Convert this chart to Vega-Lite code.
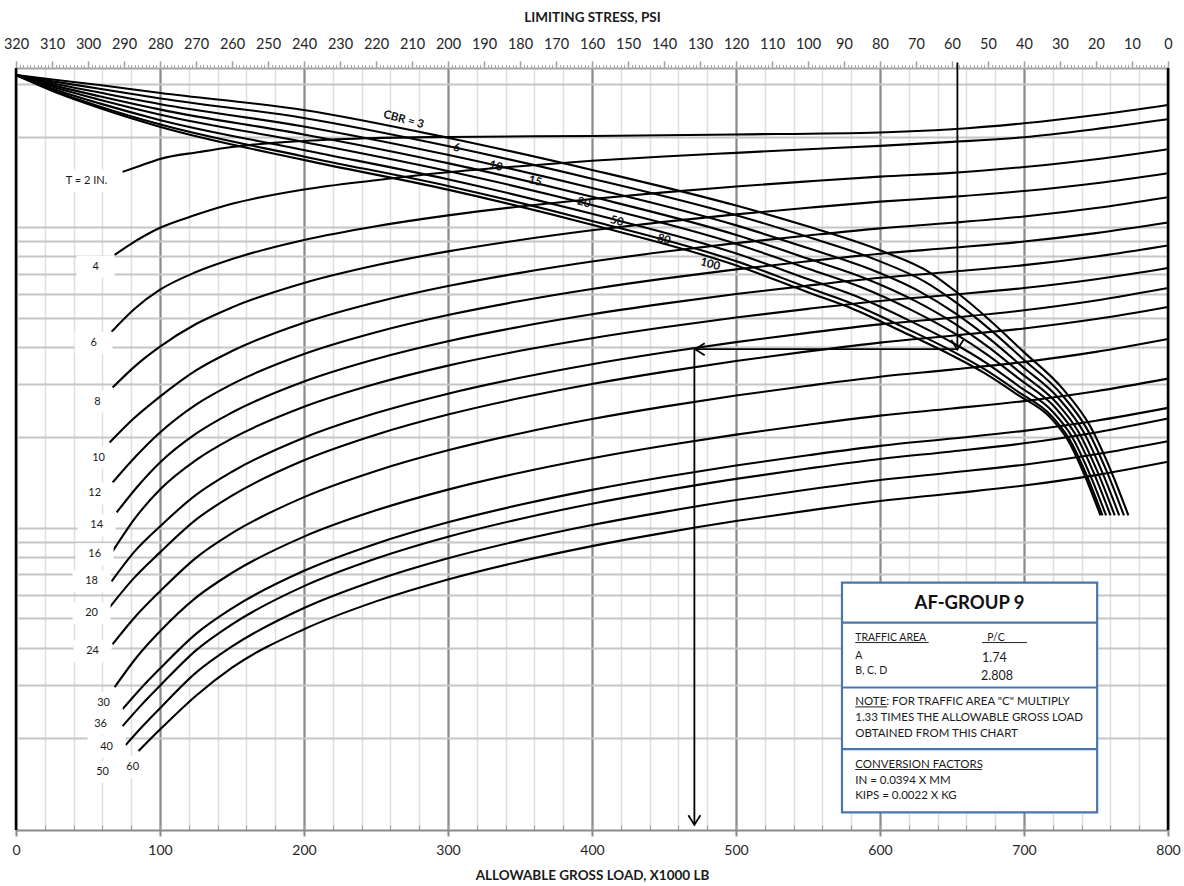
{
  "$schema": "https://vega.github.io/schema/vega-lite/v6.json",
  "width": 1152,
  "height": 762,
  "autosize": {"type": "none"},
  "padding": {"left": 16, "top": 68, "right": 16, "bottom": 56},
  "background": "white",
  "config": {
    "view": {"stroke": null},
    "font": "Lato",
    "axis": {"labelFont": "Lato", "titleFont": "Lato"}
  },
  "datasets": {
    "thick": [
      {"T":2,"load":74.0,"lg":1.1844},{"T":2,"load":85.8,"lg":1.2043},{"T":2,"load":100,"lg":1.2276},{"T":2,"load":127.5,"lg":1.2508},{"T":2,"load":150,"lg":1.2674},{"T":2,"load":200,"lg":1.2874},{"T":2,"load":250,"lg":1.2973},{"T":2,"load":300,"lg":1.3007},{"T":2,"load":400,"lg":1.3040},{"T":2,"load":500,"lg":1.3090},{"T":2,"load":600,"lg":1.3156},{"T":2,"load":650,"lg":1.3262},{"T":2,"load":700,"lg":1.3462},{"T":2,"load":750,"lg":1.3738},{"T":2,"load":800,"lg":1.4070},
      {"T":4,"load":68.5,"lg":0.9086},{"T":4,"load":78.9,"lg":0.9419},{"T":4,"load":100,"lg":0.9983},{"T":4,"load":125,"lg":1.0415},{"T":4,"load":150,"lg":1.0781},{"T":4,"load":200,"lg":1.1259},{"T":4,"load":250,"lg":1.1568},{"T":4,"load":300,"lg":1.1831},{"T":4,"load":350,"lg":1.2033},{"T":4,"load":400,"lg":1.2213},{"T":4,"load":450,"lg":1.2355},{"T":4,"load":500,"lg":1.2478},{"T":4,"load":550,"lg":1.2598},{"T":4,"load":600,"lg":1.2708},{"T":4,"load":650,"lg":1.2841},{"T":4,"load":700,"lg":1.2997},{"T":4,"load":750,"lg":1.3272},{"T":4,"load":800,"lg":1.3595},
      {"T":6,"load":66.4,"lg":0.6528},{"T":6,"load":82.4,"lg":0.7292},{"T":6,"load":100,"lg":0.7924},{"T":6,"load":125,"lg":0.8511},{"T":6,"load":150,"lg":0.8942},{"T":6,"load":200,"lg":0.9576},{"T":6,"load":250,"lg":1.0035},{"T":6,"load":300,"lg":1.0396},{"T":6,"load":350,"lg":1.0692},{"T":6,"load":400,"lg":1.0944},{"T":6,"load":450,"lg":1.1162},{"T":6,"load":500,"lg":1.1356},{"T":6,"load":550,"lg":1.1529},{"T":6,"load":600,"lg":1.1687},{"T":6,"load":650,"lg":1.1811},{"T":6,"load":700,"lg":1.2007},{"T":6,"load":750,"lg":1.2266},{"T":6,"load":800,"lg":1.2598},
      {"T":8,"load":67.1,"lg":0.4668},{"T":8,"load":83.1,"lg":0.5399},{"T":8,"load":100,"lg":0.6030},{"T":8,"load":125,"lg":0.6782},{"T":8,"load":150,"lg":0.7336},{"T":8,"load":200,"lg":0.8148},{"T":8,"load":250,"lg":0.8736},{"T":8,"load":300,"lg":0.9199},{"T":8,"load":350,"lg":0.9578},{"T":8,"load":400,"lg":0.9902},{"T":8,"load":450,"lg":1.0181},{"T":8,"load":500,"lg":1.0430},{"T":8,"load":550,"lg":1.0651},{"T":8,"load":600,"lg":1.0854},{"T":8,"load":650,"lg":1.1013},{"T":8,"load":700,"lg":1.1209},{"T":8,"load":750,"lg":1.1468},{"T":8,"load":800,"lg":1.1801},
      {"T":10,"load":65.0,"lg":0.2841},{"T":10,"load":81.7,"lg":0.3638},{"T":10,"load":100,"lg":0.4369},{"T":10,"load":125,"lg":0.5242},{"T":10,"load":150,"lg":0.5884},{"T":10,"load":200,"lg":0.6826},{"T":10,"load":250,"lg":0.7508},{"T":10,"load":300,"lg":0.8046},{"T":10,"load":350,"lg":0.8485},{"T":10,"load":400,"lg":0.8861},{"T":10,"load":450,"lg":0.9185},{"T":10,"load":500,"lg":0.9474},{"T":10,"load":550,"lg":0.9730},{"T":10,"load":600,"lg":0.9966},{"T":10,"load":650,"lg":1.0150},{"T":10,"load":700,"lg":1.0362},{"T":10,"load":750,"lg":1.0645},{"T":10,"load":800,"lg":1.1003},
      {"T":12,"load":67.1,"lg":0.1512},{"T":12,"load":83.1,"lg":0.2375},{"T":12,"load":100,"lg":0.3173},{"T":12,"load":125,"lg":0.4101},{"T":12,"load":150,"lg":0.4783},{"T":12,"load":200,"lg":0.5785},{"T":12,"load":250,"lg":0.6510},{"T":12,"load":300,"lg":0.7082},{"T":12,"load":350,"lg":0.7549},{"T":12,"load":400,"lg":0.7948},{"T":12,"load":450,"lg":0.8293},{"T":12,"load":500,"lg":0.8600},{"T":12,"load":550,"lg":0.8873},{"T":12,"load":600,"lg":0.9123},{"T":12,"load":650,"lg":0.9319},{"T":12,"load":700,"lg":0.9528},{"T":12,"load":750,"lg":0.9807},{"T":12,"load":800,"lg":1.0159},
      {"T":14,"load":69.9,"lg":0.0515},{"T":14,"load":84.4,"lg":0.1379},{"T":14,"load":100,"lg":0.2176},{"T":14,"load":125,"lg":0.3134},{"T":14,"load":150,"lg":0.3839},{"T":14,"load":200,"lg":0.4873},{"T":14,"load":250,"lg":0.5622},{"T":14,"load":300,"lg":0.6212},{"T":14,"load":350,"lg":0.6694},{"T":14,"load":400,"lg":0.7107},{"T":14,"load":450,"lg":0.7462},{"T":14,"load":500,"lg":0.7780},{"T":14,"load":550,"lg":0.8061},{"T":14,"load":600,"lg":0.8320},{"T":14,"load":650,"lg":0.8522},{"T":14,"load":700,"lg":0.8741},{"T":14,"load":750,"lg":0.9030},{"T":14,"load":800,"lg":0.9395},
      {"T":16,"load":67.1,"lg":-0.0781},{"T":16,"load":83.1,"lg":0.0349},{"T":16,"load":100,"lg":0.1279},{"T":16,"load":125,"lg":0.2257},{"T":16,"load":150,"lg":0.2976},{"T":16,"load":200,"lg":0.4032},{"T":16,"load":250,"lg":0.4797},{"T":16,"load":300,"lg":0.5399},{"T":16,"load":350,"lg":0.5891},{"T":16,"load":400,"lg":0.6312},{"T":16,"load":450,"lg":0.6675},{"T":16,"load":500,"lg":0.6999},{"T":16,"load":550,"lg":0.7287},{"T":16,"load":600,"lg":0.7550},{"T":16,"load":650,"lg":0.7757},{"T":16,"load":700,"lg":0.7980},{"T":16,"load":750,"lg":0.8272},{"T":16,"load":800,"lg":0.8645},
      {"T":18,"load":66.4,"lg":-0.1777},{"T":18,"load":82.4,"lg":-0.0781},{"T":18,"load":100,"lg":0.0050},{"T":18,"load":125,"lg":0.1098},{"T":18,"load":150,"lg":0.1869},{"T":18,"load":200,"lg":0.3001},{"T":18,"load":250,"lg":0.3820},{"T":18,"load":300,"lg":0.4466},{"T":18,"load":350,"lg":0.4993},{"T":18,"load":400,"lg":0.5445},{"T":18,"load":450,"lg":0.5834},{"T":18,"load":500,"lg":0.6181},{"T":18,"load":550,"lg":0.6489},{"T":18,"load":600,"lg":0.6772},{"T":18,"load":650,"lg":0.6993},{"T":18,"load":700,"lg":0.7239},{"T":18,"load":750,"lg":0.7565},{"T":18,"load":800,"lg":0.7980},
      {"T":20,"load":65.0,"lg":-0.2641},{"T":20,"load":81.7,"lg":-0.1678},{"T":20,"load":100,"lg":-0.0814},{"T":20,"load":125,"lg":0.0275},{"T":20,"load":150,"lg":0.1075},{"T":20,"load":200,"lg":0.2250},{"T":20,"load":250,"lg":0.3101},{"T":20,"load":300,"lg":0.3771},{"T":20,"load":350,"lg":0.4319},{"T":20,"load":400,"lg":0.4787},{"T":20,"load":450,"lg":0.5191},{"T":20,"load":500,"lg":0.5552},{"T":20,"load":550,"lg":0.5872},{"T":20,"load":600,"lg":0.6165},{"T":20,"load":650,"lg":0.6395},{"T":20,"load":700,"lg":0.6635},{"T":20,"load":750,"lg":0.6947},{"T":20,"load":800,"lg":0.7349},
      {"T":24,"load":67.1,"lg":-0.3870},{"T":24,"load":83.1,"lg":-0.2940},{"T":24,"load":100,"lg":-0.2110},{"T":24,"load":125,"lg":-0.0996},{"T":24,"load":150,"lg":-0.0177},{"T":24,"load":200,"lg":0.1025},{"T":24,"load":250,"lg":0.1895},{"T":24,"load":300,"lg":0.2581},{"T":24,"load":350,"lg":0.3142},{"T":24,"load":400,"lg":0.3621},{"T":24,"load":450,"lg":0.4034},{"T":24,"load":500,"lg":0.4403},{"T":24,"load":550,"lg":0.4730},{"T":24,"load":600,"lg":0.5031},{"T":24,"load":650,"lg":0.5266},{"T":24,"load":700,"lg":0.5522},{"T":24,"load":750,"lg":0.5857},{"T":24,"load":800,"lg":0.6286},
      {"T":30,"load":68.5,"lg":-0.5299},{"T":30,"load":83.8,"lg":-0.4302},{"T":30,"load":100,"lg":-0.3439},{"T":30,"load":125,"lg":-0.2320},{"T":30,"load":150,"lg":-0.1498},{"T":30,"load":200,"lg":-0.0290},{"T":30,"load":250,"lg":0.0584},{"T":30,"load":300,"lg":0.1273},{"T":30,"load":350,"lg":0.1836},{"T":30,"load":400,"lg":0.2318},{"T":30,"load":450,"lg":0.2733},{"T":30,"load":500,"lg":0.3103},{"T":30,"load":550,"lg":0.3432},{"T":30,"load":600,"lg":0.3734},{"T":30,"load":650,"lg":0.3970},{"T":30,"load":700,"lg":0.4219},{"T":30,"load":750,"lg":0.4548},{"T":30,"load":800,"lg":0.4967},
      {"T":36,"load":74.0,"lg":-0.6030},{"T":36,"load":86.5,"lg":-0.5350},{"T":36,"load":100,"lg":-0.4680},{"T":36,"load":125,"lg":-0.3524},{"T":36,"load":150,"lg":-0.2675},{"T":36,"load":200,"lg":-0.1427},{"T":36,"load":250,"lg":-0.0524},{"T":36,"load":300,"lg":0.0187},{"T":36,"load":350,"lg":0.0769},{"T":36,"load":400,"lg":0.1266},{"T":36,"load":450,"lg":0.1695},{"T":36,"load":500,"lg":0.2078},{"T":36,"load":550,"lg":0.2417},{"T":36,"load":600,"lg":0.2729},{"T":36,"load":650,"lg":0.2973},{"T":36,"load":700,"lg":0.3229},{"T":36,"load":750,"lg":0.3565},{"T":36,"load":800,"lg":0.3993},
      {"T":40,"load":74.0,"lg":-0.6595},{"T":40,"load":86.5,"lg":-0.5920},{"T":40,"load":100,"lg":-0.5250},{"T":40,"load":125,"lg":-0.4073},{"T":40,"load":150,"lg":-0.3208},{"T":40,"load":200,"lg":-0.1938},{"T":40,"load":250,"lg":-0.1019},{"T":40,"load":300,"lg":-0.0294},{"T":40,"load":350,"lg":0.0298},{"T":40,"load":400,"lg":0.0804},{"T":40,"load":450,"lg":0.1241},{"T":40,"load":500,"lg":0.1630},{"T":40,"load":550,"lg":0.1976},{"T":40,"load":600,"lg":0.2293},{"T":40,"load":650,"lg":0.2542},{"T":40,"load":700,"lg":0.2814},{"T":40,"load":750,"lg":0.3176},{"T":40,"load":800,"lg":0.3638},
      {"T":50,"load":76.1,"lg":-0.7226},{"T":50,"load":87.9,"lg":-0.6600},{"T":50,"load":100,"lg":-0.6000},{"T":50,"load":125,"lg":-0.4816},{"T":50,"load":150,"lg":-0.3945},{"T":50,"load":200,"lg":-0.2666},{"T":50,"load":250,"lg":-0.1741},{"T":50,"load":300,"lg":-0.1011},{"T":50,"load":350,"lg":-0.0415},{"T":50,"load":400,"lg":0.0095},{"T":50,"load":450,"lg":0.0534},{"T":50,"load":500,"lg":0.0926},{"T":50,"load":550,"lg":0.1275},{"T":50,"load":600,"lg":0.1594},{"T":50,"load":650,"lg":0.1844},{"T":50,"load":700,"lg":0.2103},{"T":50,"load":750,"lg":0.2449},{"T":50,"load":800,"lg":0.2884},
      {"T":60,"load":85.1,"lg":-0.7425},{"T":60,"load":92.8,"lg":-0.7050},{"T":60,"load":100,"lg":-0.6710},{"T":60,"load":125,"lg":-0.5585},{"T":60,"load":150,"lg":-0.4650},{"T":60,"load":200,"lg":-0.3371},{"T":60,"load":250,"lg":-0.2444},{"T":60,"load":300,"lg":-0.1714},{"T":60,"load":350,"lg":-0.1117},{"T":60,"load":400,"lg":-0.0606},{"T":60,"load":450,"lg":-0.0166},{"T":60,"load":500,"lg":0.0227},{"T":60,"load":550,"lg":0.0576},{"T":60,"load":600,"lg":0.0895},{"T":60,"load":650,"lg":0.1146},{"T":60,"load":700,"lg":0.1409},{"T":60,"load":750,"lg":0.1757},{"T":60,"load":800,"lg":0.2199}
    ],
    "cbr": [
      {"CBR":3,"load":0,"lg":1.5066},{"CBR":3,"load":25.4,"lg":1.4917},{"CBR":3,"load":58.0,"lg":1.4734},{"CBR":3,"load":100.4,"lg":1.4468},{"CBR":3,"load":199.8,"lg":1.3904},{"CBR":3,"load":300.6,"lg":1.2973},{"CBR":3,"load":400.0,"lg":1.1910},{"CBR":3,"load":500.8,"lg":1.0714},{"CBR":3,"load":550.8,"lg":1.0017},{"CBR":3,"load":600.9,"lg":0.9219},{"CBR":3,"load":634.9,"lg":0.8488},{"CBR":3,"load":653.7,"lg":0.7824},{"CBR":3,"load":676.6,"lg":0.6894},{"CBR":3,"load":699.6,"lg":0.5864},{"CBR":3,"load":727.4,"lg":0.4601},{"CBR":3,"load":746.1,"lg":0.3372},{"CBR":3,"load":760.0,"lg":0.1944},{"CBR":3,"load":772.5,"lg":0.0415},
      {"CBR":6,"load":0,"lg":1.5066},{"CBR":6,"load":25.4,"lg":1.4856},{"CBR":6,"load":58.0,"lg":1.4612},{"CBR":6,"load":100.4,"lg":1.4287},{"CBR":6,"load":199.8,"lg":1.3638},{"CBR":6,"load":300.6,"lg":1.2697},{"CBR":6,"load":400.0,"lg":1.1618},{"CBR":6,"load":500.8,"lg":1.0395},{"CBR":6,"load":550.8,"lg":0.9666},{"CBR":6,"load":597.4,"lg":0.8916},{"CBR":6,"load":631.6,"lg":0.8179},{"CBR":6,"load":652.9,"lg":0.7494},{"CBR":6,"load":676.1,"lg":0.6612},{"CBR":6,"load":698.9,"lg":0.5636},{"CBR":6,"load":725.9,"lg":0.4452},{"CBR":6,"load":743.6,"lg":0.3303},{"CBR":6,"load":757.0,"lg":0.1928},{"CBR":6,"load":769.4,"lg":0.0415},
      {"CBR":10,"load":0,"lg":1.5066},{"CBR":10,"load":25.4,"lg":1.4791},{"CBR":10,"load":58.0,"lg":1.4482},{"CBR":10,"load":100.4,"lg":1.4095},{"CBR":10,"load":199.8,"lg":1.3356},{"CBR":10,"load":300.6,"lg":1.2403},{"CBR":10,"load":400.0,"lg":1.1307},{"CBR":10,"load":500.8,"lg":1.0056},{"CBR":10,"load":550.8,"lg":0.9293},{"CBR":10,"load":593.8,"lg":0.8594},{"CBR":10,"load":628.0,"lg":0.7852},{"CBR":10,"load":652.1,"lg":0.7144},{"CBR":10,"load":675.5,"lg":0.6313},{"CBR":10,"load":698.2,"lg":0.5392},{"CBR":10,"load":724.4,"lg":0.4294},{"CBR":10,"load":740.9,"lg":0.3229},{"CBR":10,"load":753.8,"lg":0.1911},{"CBR":10,"load":766.1,"lg":0.0415},
      {"CBR":15,"load":0,"lg":1.5066},{"CBR":15,"load":25.4,"lg":1.4730},{"CBR":15,"load":58.0,"lg":1.4360},{"CBR":15,"load":100.4,"lg":1.3915},{"CBR":15,"load":199.8,"lg":1.3090},{"CBR":15,"load":300.6,"lg":1.2127},{"CBR":15,"load":400.0,"lg":1.1015},{"CBR":15,"load":500.8,"lg":0.9737},{"CBR":15,"load":550.8,"lg":0.8942},{"CBR":15,"load":590.3,"lg":0.8291},{"CBR":15,"load":624.7,"lg":0.7544},{"CBR":15,"load":651.3,"lg":0.6815},{"CBR":15,"load":674.9,"lg":0.6031},{"CBR":15,"load":697.5,"lg":0.5164},{"CBR":15,"load":722.9,"lg":0.4145},{"CBR":15,"load":738.3,"lg":0.3160},{"CBR":15,"load":750.8,"lg":0.1895},{"CBR":15,"load":763.0,"lg":0.0415},
      {"CBR":20,"load":0,"lg":1.5066},{"CBR":20,"load":25.4,"lg":1.4673},{"CBR":20,"load":58.0,"lg":1.4245},{"CBR":20,"load":100.4,"lg":1.3745},{"CBR":20,"load":199.8,"lg":1.2841},{"CBR":20,"load":300.6,"lg":1.1868},{"CBR":20,"load":400.0,"lg":1.0741},{"CBR":20,"load":500.8,"lg":0.9438},{"CBR":20,"load":550.8,"lg":0.8613},{"CBR":20,"load":587.1,"lg":0.8007},{"CBR":20,"load":621.6,"lg":0.7255},{"CBR":20,"load":650.6,"lg":0.6506},{"CBR":20,"load":674.4,"lg":0.5767},{"CBR":20,"load":696.9,"lg":0.4950},{"CBR":20,"load":721.6,"lg":0.4006},{"CBR":20,"load":735.9,"lg":0.3096},{"CBR":20,"load":748.0,"lg":0.1880},{"CBR":20,"load":760.1,"lg":0.0415},
      {"CBR":50,"load":0,"lg":1.5066},{"CBR":50,"load":25.4,"lg":1.4611},{"CBR":50,"load":58.0,"lg":1.4123},{"CBR":50,"load":100.4,"lg":1.3565},{"CBR":50,"load":199.8,"lg":1.2575},{"CBR":50,"load":300.6,"lg":1.1591},{"CBR":50,"load":400.0,"lg":1.0448},{"CBR":50,"load":500.8,"lg":0.9120},{"CBR":50,"load":550.8,"lg":0.8263},{"CBR":50,"load":583.6,"lg":0.7704},{"CBR":50,"load":618.3,"lg":0.6946},{"CBR":50,"load":649.8,"lg":0.6176},{"CBR":50,"load":673.9,"lg":0.5485},{"CBR":50,"load":696.2,"lg":0.4721},{"CBR":50,"load":720.1,"lg":0.3857},{"CBR":50,"load":733.4,"lg":0.3026},{"CBR":50,"load":745.0,"lg":0.1864},{"CBR":50,"load":757.0,"lg":0.0415},
      {"CBR":80,"load":0,"lg":1.5066},{"CBR":80,"load":25.4,"lg":1.4562},{"CBR":80,"load":58.0,"lg":1.4023},{"CBR":80,"load":100.4,"lg":1.3418},{"CBR":80,"load":199.8,"lg":1.2359},{"CBR":80,"load":300.6,"lg":1.1367},{"CBR":80,"load":400.0,"lg":1.0211},{"CBR":80,"load":500.8,"lg":0.8861},{"CBR":80,"load":550.8,"lg":0.7978},{"CBR":80,"load":580.8,"lg":0.7459},{"CBR":80,"load":615.6,"lg":0.6696},{"CBR":80,"load":649.1,"lg":0.5909},{"CBR":80,"load":673.4,"lg":0.5256},{"CBR":80,"load":695.7,"lg":0.4535},{"CBR":80,"load":718.9,"lg":0.3736},{"CBR":80,"load":731.3,"lg":0.2970},{"CBR":80,"load":742.6,"lg":0.1851},{"CBR":80,"load":754.5,"lg":0.0415},
      {"CBR":100,"load":0,"lg":1.5066},{"CBR":100,"load":25.4,"lg":1.4535},{"CBR":100,"load":58.0,"lg":1.3970},{"CBR":100,"load":100.4,"lg":1.3339},{"CBR":100,"load":199.8,"lg":1.2243},{"CBR":100,"load":300.6,"lg":1.1246},{"CBR":100,"load":400.0,"lg":1.0083},{"CBR":100,"load":500.8,"lg":0.8721},{"CBR":100,"load":550.8,"lg":0.7824},{"CBR":100,"load":579.3,"lg":0.7326},{"CBR":100,"load":614.1,"lg":0.6561},{"CBR":100,"load":648.8,"lg":0.5764},{"CBR":100,"load":673.2,"lg":0.5133},{"CBR":100,"load":695.4,"lg":0.4435},{"CBR":100,"load":718.3,"lg":0.3671},{"CBR":100,"load":730.2,"lg":0.2940},{"CBR":100,"load":741.3,"lg":0.1844},{"CBR":100,"load":753.1,"lg":0.0415}
    ],
    "thickLabels": [
      {"label":"T = 2 IN.","load":49.0,"lg":1.1545},{"label":"4","load":55.3,"lg":0.8688},{"label":"6","load":53.9,"lg":0.6163},{"label":"8","load":56.6,"lg":0.4203},{"label":"10","load":57.3,"lg":0.2342},{"label":"12","load":54.6,"lg":0.1146},{"label":"14","load":56.0,"lg":0.0083},{"label":"16","load":54.6,"lg":-0.0880},{"label":"18","load":52.5,"lg":-0.1777},{"label":"20","load":52.5,"lg":-0.2841},{"label":"24","load":53.2,"lg":-0.4103},{"label":"30","load":60.8,"lg":-0.5831},{"label":"36","load":58.7,"lg":-0.6528},{"label":"40","load":62.9,"lg":-0.7292},{"label":"50","load":60.1,"lg":-0.8123},{"label":"60","load":81.0,"lg":-0.7957}
    ],
    "cbrLabels": [
      {"label":"CBR = 3","load":269.1,"lg":1.3571},{"label":"6","load":305.9,"lg":1.2631},{"label":"10","load":333.1,"lg":1.2020},{"label":"15","load":360.4,"lg":1.1522},{"label":"20","load":394.3,"lg":1.0804},{"label":"50","load":417.2,"lg":1.0193},{"label":"80","load":449.9,"lg":0.9585},{"label":"100","load":482.0,"lg":0.8754}
    ],
    "arrowPsi": [{"psi":58.5,"lg":1.548},{"psi":58.5,"lg":0.593}],
    "arrowLoad": [
      {"seg":"h","load":653.7,"lg":0.5947},{"seg":"h","load":471.6,"lg":0.5947},
      {"seg":"v","load":471.1,"lg":0.5947},{"seg":"v","load":471.1,"lg":-0.988}
    ],
    "headLeft": [{"load":471.6,"lg":0.5947}],
    "headDown": [{"load":653.7,"lg":0.593},{"load":471.1,"lg":-0.988}],
    "borders": [{"load":0},{"load":800}],
    "legendBox": [{"x1":573.6,"x2":750.8,"y1":-0.1821,"y2":-0.9462}],
    "legendDiv": [{"x1":573.6,"x2":750.8,"y":-0.3149},{"x1":573.6,"x2":750.8,"y":-0.5309},{"x1":573.6,"x2":750.8,"y":-0.7359}],
    "legendUnder": [{"x1":582.8,"x2":633.8,"y":-0.3814},{"x1":670.9,"x2":702.1,"y":-0.3814},{"x1":582.8,"x2":605.0,"y":-0.5955},{"x1":582.8,"x2":670.8,"y":-0.8038}],
    "legendTitle": [{"t":"AF-GROUP 9","load":662.2,"lg":-0.2485}],
    "legendSmall": [
      {"t":"TRAFFIC AREA","load":582.8,"lg":-0.3671},{"t":"P/C","load":674.5,"lg":-0.3671},{"t":"A","load":582.8,"lg":-0.4259},{"t":"B, C, D","load":582.8,"lg":-0.4757}
    ],
    "legendNum": [
      {"t":"1.74","load":670.9,"lg":-0.4312},{"t":"2.808","load":670.2,"lg":-0.4923}
    ],
    "legendBody": [
      {"t":"NOTE: FOR TRAFFIC AREA \"C\" MULTIPLY","load":582.8,"lg":-0.5807},{"t":"1.33 TIMES THE ALLOWABLE GROSS LOAD","load":582.8,"lg":-0.6339},{"t":"OBTAINED FROM THIS CHART","load":582.8,"lg":-0.6860},
      {"t":"CONVERSION FACTORS","load":582.8,"lg":-0.7890},{"t":"IN = 0.0394 X MM","load":582.8,"lg":-0.8412},{"t":"KIPS = 0.0022 X KG","load":582.8,"lg":-0.8910}
    ]
  },
  "resolve": {"scale": {"x": "independent"}, "axis": {"x": "independent", "y": "independent"}},
  "layer": [
    {
      "data": {"name": "thick"},
      "mark": {"type": "line", "interpolate": "monotone", "color": "black", "strokeWidth": 2.1},
      "encoding": {
        "x": {"field": "load", "type": "quantitative", "scale": {"domain": [0, 800], "nice": false, "zero": false},
          "axis": {"orient": "bottom", "values": [0,20,40,60,80,100,120,140,160,180,200,220,240,260,280,300,320,340,360,380,400,420,440,460,480,500,520,540,560,580,600,620,640,660,680,700,720,740,760,780,800],
            "grid": true, "gridColor": "#dedede", "gridWidth": 1.5, "labels": false, "ticks": true, "tickSize": -5, "tickColor": "#a0a0a0", "tickWidth": 1.2, "domain": false, "title": null}},
        "y": {"field": "lg", "type": "quantitative", "scale": {"domain": [-1.005, 1.53], "nice": false, "zero": false},
          "axis": {"orient": "left", "values": [1.4771,1.301,1,0.9542,0.9031,0.8451,0.7782,0.699,0.6021,0.4771,0.301,0,-0.0458,-0.0969,-0.1549,-0.2218,-0.301,-0.3979,-0.5229,-0.699],
            "grid": true, "gridColor": "#c6c6c6", "gridWidth": 2, "labels": false, "ticks": false, "domain": false, "title": null}},
        "detail": {"field": "T", "type": "nominal"}
      }
    },
    {
      "data": {"name": "cbr"},
      "mark": {"type": "line", "interpolate": "monotone", "color": "black", "strokeWidth": 2.1},
      "encoding": {
        "x": {"field": "load", "type": "quantitative", "scale": {"domain": [0, 800], "nice": false, "zero": false},
          "axis": {"orient": "bottom", "values": [0,100,200,300,400,500,600,700,800], "grid": true, "gridColor": "#8a8a8a", "gridWidth": 2.2,
            "labelFontSize": 14, "labelColor": "#262626", "labelPadding": 7, "labelFlush": false, "labelOverlap": false,
            "tickSize": 6, "tickColor": "#8a8a8a", "tickWidth": 2, "domainColor": "#8a8a8a", "domainWidth": 2,
            "title": "ALLOWABLE GROSS LOAD, X1000 LB", "titleFontSize": 13.5, "titleFontWeight": "bold", "titleColor": "#1a1a1a", "titlePadding": 11}},
        "y": {"field": "lg", "type": "quantitative", "scale": {"domain": [-1.005, 1.53], "nice": false, "zero": false}, "axis": null},
        "detail": {"field": "CBR", "type": "nominal"}
      }
    },
    {
      "data": {"name": "arrowPsi"},
      "mark": {"type": "line", "color": "black", "strokeWidth": 1.8},
      "encoding": {
        "x": {"field": "psi", "type": "quantitative", "scale": {"domain": [0, 320], "reverse": true, "nice": false, "zero": false},
          "axis": {"orient": "top", "values": [0,10,20,30,40,50,60,70,80,90,100,110,120,130,140,150,160,170,180,190,200,210,220,230,240,250,260,270,280,290,300,310,320],
            "grid": false, "labelFontSize": 14.5, "labelColor": "#262626", "labelPadding": 10, "labelFlush": false, "labelOverlap": false,
            "tickSize": 7, "tickColor": "#9a9a9a", "tickWidth": 1.5, "domainColor": "#a6a6a6", "domainWidth": 2,
            "title": "LIMITING STRESS, PSI", "titleFontSize": 13.5, "titleFontWeight": "bold", "titleColor": "#1a1a1a", "titlePadding": 12}},
        "y": {"field": "lg", "type": "quantitative", "scale": {"domain": [-1.005, 1.53], "nice": false, "zero": false}, "axis": null}
      }
    },
    {
      "data": {"name": "arrowPsi"},
      "mark": {"type": "line", "color": "black", "strokeWidth": 0, "opacity": 0},
      "encoding": {
        "x": {"field": "psi", "type": "quantitative", "scale": {"domain": [0, 320], "reverse": true, "nice": false, "zero": false},
          "axis": {"orient": "top", "tickCount": 320, "labels": false, "grid": false, "domain": false, "tickSize": 3.5, "tickColor": "#a6a6a6", "tickWidth": 1, "title": null}},
        "y": {"field": "lg", "type": "quantitative", "scale": {"domain": [-1.005, 1.53], "nice": false, "zero": false}, "axis": null}
      }
    },
    {
      "data": {"name": "arrowLoad"},
      "mark": {"type": "line", "color": "black", "strokeWidth": 1.8},
      "encoding": {
        "x": {"field": "load", "type": "quantitative", "scale": {"domain": [0, 800], "nice": false, "zero": false}, "axis": null},
        "y": {"field": "lg", "type": "quantitative", "scale": {"domain": [-1.005, 1.53], "nice": false, "zero": false}, "axis": null},
        "detail": {"field": "seg", "type": "nominal"}
      }
    },
    {
      "data": {"name": "headDown"},
      "mark": {"type": "point", "shape": "M -1 -1.6 L 0 0 L 1 -1.6", "size": 144, "filled": false, "stroke": "black", "strokeWidth": 1.8, "opacity": 1},
      "encoding": {
        "x": {"field": "load", "type": "quantitative", "scale": {"domain": [0, 800], "nice": false, "zero": false}, "axis": null},
        "y": {"field": "lg", "type": "quantitative", "scale": {"domain": [-1.005, 1.53], "nice": false, "zero": false}, "axis": null}
      }
    },
    {
      "data": {"name": "headLeft"},
      "mark": {"type": "point", "shape": "M 1.6 -1 L 0 0 L 1.6 1", "size": 144, "filled": false, "stroke": "black", "strokeWidth": 1.8, "opacity": 1},
      "encoding": {
        "x": {"field": "load", "type": "quantitative", "scale": {"domain": [0, 800], "nice": false, "zero": false}, "axis": null},
        "y": {"field": "lg", "type": "quantitative", "scale": {"domain": [-1.005, 1.53], "nice": false, "zero": false}, "axis": null}
      }
    },
    {
      "data": {"name": "borders"},
      "mark": {"type": "rule", "color": "black", "strokeWidth": 2.5},
      "encoding": {
        "x": {"field": "load", "type": "quantitative", "scale": {"domain": [0, 800], "nice": false, "zero": false}, "axis": null}
      }
    },
    {
      "data": {"name": "thickLabels"},
      "mark": {"type": "point", "shape": "M -1 -0.58 L 1 -0.58 L 1 0.58 L -1 0.58 Z", "size": 1444, "filled": true, "fill": "white", "strokeWidth": 0, "opacity": 1},
      "encoding": {
        "x": {"field": "load", "type": "quantitative", "scale": {"domain": [0, 800], "nice": false, "zero": false}, "axis": null},
        "y": {"field": "lg", "type": "quantitative", "scale": {"domain": [-1.005, 1.53], "nice": false, "zero": false}, "axis": null}
      }
    },
    {
      "data": {"name": "thickLabels"},
      "mark": {"type": "text", "font": "Lato", "fontSize": 11, "color": "#1a1a1a", "align": "center", "baseline": "middle"},
      "encoding": {
        "x": {"field": "load", "type": "quantitative", "scale": {"domain": [0, 800], "nice": false, "zero": false}, "axis": null},
        "y": {"field": "lg", "type": "quantitative", "scale": {"domain": [-1.005, 1.53], "nice": false, "zero": false}, "axis": null},
        "text": {"field": "label", "type": "nominal"}
      }
    },
    {
      "data": {"name": "cbrLabels"},
      "mark": {"type": "text", "font": "Lato", "fontSize": 11.5, "fontWeight": "bold", "color": "#111111", "align": "center", "baseline": "middle", "angle": 15},
      "encoding": {
        "x": {"field": "load", "type": "quantitative", "scale": {"domain": [0, 800], "nice": false, "zero": false}, "axis": null},
        "y": {"field": "lg", "type": "quantitative", "scale": {"domain": [-1.005, 1.53], "nice": false, "zero": false}, "axis": null},
        "text": {"field": "label", "type": "nominal"}
      }
    },
    {
      "data": {"name": "legendBox"},
      "mark": {"type": "rect", "fill": "white", "stroke": "#4a76b0", "strokeWidth": 2.2},
      "encoding": {
        "x": {"field": "x1", "type": "quantitative", "scale": {"domain": [0, 800], "nice": false, "zero": false}, "axis": null},
        "x2": {"field": "x2"},
        "y": {"field": "y1", "type": "quantitative", "scale": {"domain": [-1.005, 1.53], "nice": false, "zero": false}, "axis": null},
        "y2": {"field": "y2"}
      }
    },
    {
      "data": {"name": "legendDiv"},
      "mark": {"type": "rule", "color": "#4a76b0", "strokeWidth": 2.2},
      "encoding": {
        "x": {"field": "x1", "type": "quantitative", "scale": {"domain": [0, 800], "nice": false, "zero": false}, "axis": null},
        "x2": {"field": "x2"},
        "y": {"field": "y", "type": "quantitative", "scale": {"domain": [-1.005, 1.53], "nice": false, "zero": false}, "axis": null}
      }
    },
    {
      "data": {"name": "legendUnder"},
      "mark": {"type": "rule", "color": "#222222", "strokeWidth": 1},
      "encoding": {
        "x": {"field": "x1", "type": "quantitative", "scale": {"domain": [0, 800], "nice": false, "zero": false}, "axis": null},
        "x2": {"field": "x2"},
        "y": {"field": "y", "type": "quantitative", "scale": {"domain": [-1.005, 1.53], "nice": false, "zero": false}, "axis": null}
      }
    },
    {
      "data": {"name": "legendTitle"},
      "mark": {"type": "text", "font": "Lato", "fontSize": 18.5, "fontWeight": "bold", "color": "#111111", "align": "center", "baseline": "middle"},
      "encoding": {
        "x": {"field": "load", "type": "quantitative", "scale": {"domain": [0, 800], "nice": false, "zero": false}, "axis": null},
        "y": {"field": "lg", "type": "quantitative", "scale": {"domain": [-1.005, 1.53], "nice": false, "zero": false}, "axis": null},
        "text": {"field": "t", "type": "nominal"}
      }
    },
    {
      "data": {"name": "legendSmall"},
      "mark": {"type": "text", "font": "Lato", "fontSize": 10.5, "color": "#1a1a1a", "align": "left", "baseline": "middle"},
      "encoding": {
        "x": {"field": "load", "type": "quantitative", "scale": {"domain": [0, 800], "nice": false, "zero": false}, "axis": null},
        "y": {"field": "lg", "type": "quantitative", "scale": {"domain": [-1.005, 1.53], "nice": false, "zero": false}, "axis": null},
        "text": {"field": "t", "type": "nominal"}
      }
    },
    {
      "data": {"name": "legendNum"},
      "mark": {"type": "text", "font": "Lato", "fontSize": 12.5, "color": "#1a1a1a", "align": "left", "baseline": "middle"},
      "encoding": {
        "x": {"field": "load", "type": "quantitative", "scale": {"domain": [0, 800], "nice": false, "zero": false}, "axis": null},
        "y": {"field": "lg", "type": "quantitative", "scale": {"domain": [-1.005, 1.53], "nice": false, "zero": false}, "axis": null},
        "text": {"field": "t", "type": "nominal"}
      }
    },
    {
      "data": {"name": "legendBody"},
      "mark": {"type": "text", "font": "Lato", "fontSize": 11.5, "color": "#1a1a1a", "align": "left", "baseline": "middle"},
      "encoding": {
        "x": {"field": "load", "type": "quantitative", "scale": {"domain": [0, 800], "nice": false, "zero": false}, "axis": null},
        "y": {"field": "lg", "type": "quantitative", "scale": {"domain": [-1.005, 1.53], "nice": false, "zero": false}, "axis": null},
        "text": {"field": "t", "type": "nominal"}
      }
    }
  ]
}
